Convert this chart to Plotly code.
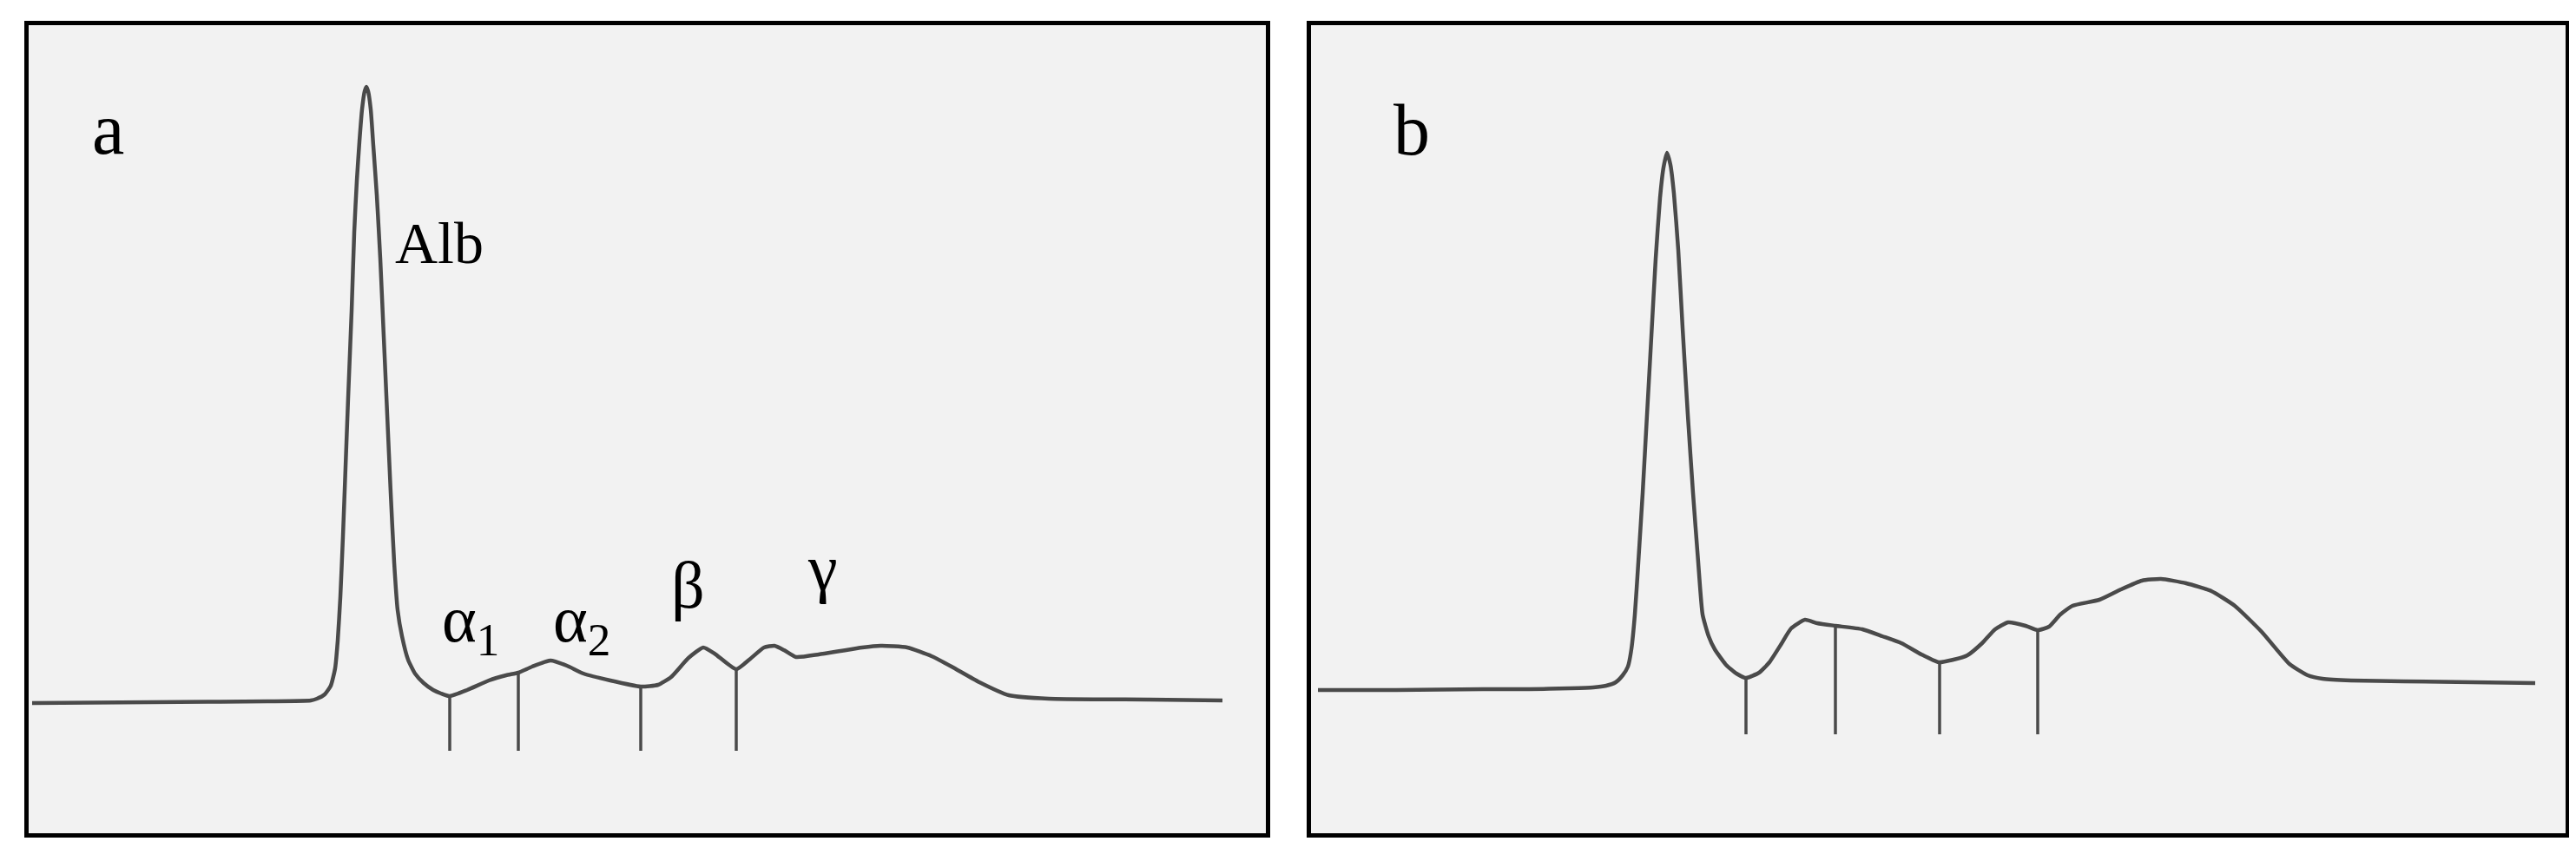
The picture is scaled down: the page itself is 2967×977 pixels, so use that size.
import numpy as np
import plotly.graph_objects as go

# ---------------- data (scan position, absorbance; arbitrary units) ----------------
# Panel a
a_pos = [4, 140, 275, 325, 332, 341, 348, 353, 356, 359, 362, 365, 368, 372, 375, 378, 381, 384,
         387, 389, 391, 394, 397, 401, 405, 409, 413, 417, 421, 425, 430, 437, 445, 455, 466, 475, 485,
         505, 530, 550, 564, 580, 601, 620, 639, 670, 705, 725, 740, 760, 777, 790, 815, 830, 847, 859,
         870, 884, 910, 935, 960, 981, 1012, 1040, 1063, 1095, 1129, 1175, 1290, 1375]
a_abs = [150, 151, 152, 153, 155, 160, 170, 190, 222, 272, 342, 422, 502, 602, 692, 752, 797, 834,
         855, 860, 855, 834, 792, 735, 662, 572, 482, 392, 312, 257, 227, 200, 184, 173, 165, 161, 158,
         165, 176, 182, 185, 192, 199, 193, 184, 176, 169, 171, 180, 202, 214, 207, 189, 200, 214, 216,
         211, 203, 206, 210, 214, 216, 214, 204, 192, 174, 159, 155, 154, 153]
a_dividers = [485, 564, 705, 815]

# Panel b
b_pos = [8, 98, 198, 251, 298, 325, 340, 351, 359, 365, 369, 373, 377, 382, 387, 392, 397, 402, 406,
         410, 414, 418, 423, 428, 434, 440, 446, 451, 458, 465, 478, 490, 501, 516, 528, 541, 553, 569,
         583, 604, 635, 658, 680, 703, 723, 740, 756, 773, 788, 803, 823, 837, 850, 863, 877, 908, 933,
         957, 979, 1008, 1037, 1064, 1095, 1127, 1148, 1165, 1198, 1258, 1410]
b_abs = [165, 165, 166, 166, 167, 168, 170, 174, 182, 192, 212, 252, 312, 392, 482, 572, 662, 732, 767,
         784, 770, 737, 672, 582, 482, 392, 312, 252, 227, 212, 194, 184, 179, 185, 197, 217, 236, 246,
         242, 239, 235, 227, 219, 206, 197, 200, 205, 219, 235, 243, 239, 234, 238, 252, 262, 269, 281,
         291, 293, 288, 279, 262, 232, 195, 182, 178, 176, 175, 173]
b_dividers = [501, 604, 724, 837]

a_tick_floor = 95
b_tick_floor = 114

a_labels = ["Alb", "α<sub>1</sub>", "α<sub>2</sub>", "β", "γ"]
a_label_pos = [420, 474, 602, 759, 914]
a_label_abs = [680, 241, 241, 286, 306]

panel_names = ["a", "b"]
panel_name_pos = [91, 116]
panel_name_abs = [811, 810]

# ---------------- figure ----------------
W, H = 2967, 977
LINE = "#4a4a4a"
SERIF = "Liberation Serif, Times New Roman, serif"

fig = go.Figure()

def add_panel(pos, ab, dividers, floor, xa, ya):
    fig.add_trace(go.Scatter(x=pos, y=ab, mode="lines", xaxis=xa, yaxis=ya,
                             line=dict(color=LINE, width=4.5, shape="spline", smoothing=0.5),
                             hoverinfo="skip", showlegend=False))
    tops = np.interp(dividers, pos, ab)
    xs, ys = [], []
    for d, t in zip(dividers, tops):
        xs += [d, d, None]
        ys += [floor, t, None]
    fig.add_trace(go.Scatter(x=xs, y=ys, mode="lines", xaxis=xa, yaxis=ya,
                             line=dict(color=LINE, width=3.5),
                             hoverinfo="skip", showlegend=False))

add_panel(a_pos, a_abs, a_dividers, a_tick_floor, "x", "y")
add_panel(b_pos, b_abs, b_dividers, b_tick_floor, "x2", "y2")

ydom = [1 - 952 / H, 1 - 21 / H]
axis_common = dict(showgrid=False, zeroline=False, showticklabels=False, ticks="",
                   showline=True, mirror=True, linecolor="black", linewidth=5)
fig.update_layout(
    width=W, height=H,
    margin=dict(l=0, r=0, t=0, b=0),
    paper_bgcolor="white",
    plot_bgcolor="#f2f2f2",
    xaxis=dict(domain=[25 / W, 1450 / W], range=[0, 1425], **axis_common),
    yaxis=dict(domain=ydom, range=[0, 931], **axis_common),
    xaxis2=dict(domain=[1502 / W, 2947 / W], range=[0, 1445], anchor="y2", **axis_common),
    yaxis2=dict(domain=ydom, range=[0, 931], anchor="x2", **axis_common),
)

# panel letters
for name, x, y, xr, yr in zip(panel_names, panel_name_pos, panel_name_abs, ["x", "x2"], ["y", "y2"]):
    fig.add_annotation(x=x, y=y, xref=xr, yref=yr, text=name, showarrow=False,
                       font=dict(family=SERIF, size=84, color="black"))

# fraction labels
for i, (t, x, y) in enumerate(zip(a_labels, a_label_pos, a_label_abs)):
    size = 68 if t == "Alb" else 76
    fig.add_annotation(x=x, y=y, xref="x", yref="y", text=t, showarrow=False,
                       xanchor="left" if i in (0, 1, 2) else "center",
                       font=dict(family=SERIF, size=size, color="black"))

fig.write_html("out.html")
